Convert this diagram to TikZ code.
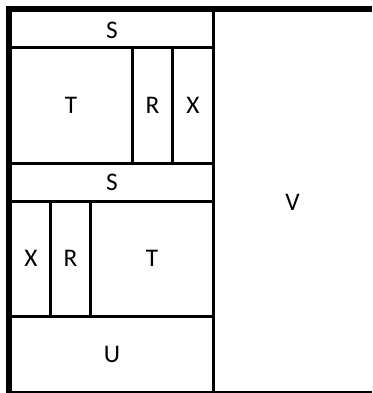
\documentclass[tikz,border=0pt]{standalone}
\usepackage{fontspec}
\setmainfont{Carlito}
\begin{document}
\begin{tikzpicture}[x=0.75pt,y=-0.75pt,
  thickline/.style={fill=black},
  thinline/.style={draw=black,line width=2.25pt},
  lbl/.style={font=\fontsize{19}{22}\selectfont,inner sep=0pt,anchor=center}]
\useasboundingbox (0,0) rectangle (372,393);
\begin{scope}
\clip (0,0) rectangle (372,393);
% outer thick borders
\fill[thickline] (6,6) rectangle (372,12);
\fill[thickline] (6,6) rectangle (12,393);
% bottom line
\draw[thinline] (12,392.5) -- (372,392.5);
% main vertical divider
\draw[thinline] (213,12) -- (213,393);
% horizontal dividers in left column
\draw[thinline] (12,47.5) -- (214.1,47.5);
\draw[thinline] (12,163) -- (214.1,163);
\draw[thinline] (12,201.5) -- (214.1,201.5);
\draw[thinline] (12,316.5) -- (214.1,316.5);
% upper vertical dividers
\draw[thinline] (132.5,47.5) -- (132.5,163);
\draw[thinline] (172.5,47.5) -- (172.5,163);
% lower vertical dividers
\draw[thinline] (50.5,201.5) -- (50.5,316.5);
\draw[thinline] (90.5,201.5) -- (90.5,316.5);
\end{scope}
% labels
\node[lbl] (s1) at (112,30) {S};
\node[lbl] (t1) at (71,105) {T};
\node[lbl] (r1) at (152.5,105) {R};
\node[lbl] (x1) at (193,105) {X};
\node[lbl] (s2) at (112,182) {S};
\node[lbl] (x2) at (31,258.5) {X};
\node[lbl] (r2) at (70.5,258.5) {R};
\node[lbl] (t2) at (152,258.5) {T};
\node[lbl] (u) at (112,354) {U};
\node[lbl] (v) at (292.5,202) {V};
\end{tikzpicture}
\end{document}
